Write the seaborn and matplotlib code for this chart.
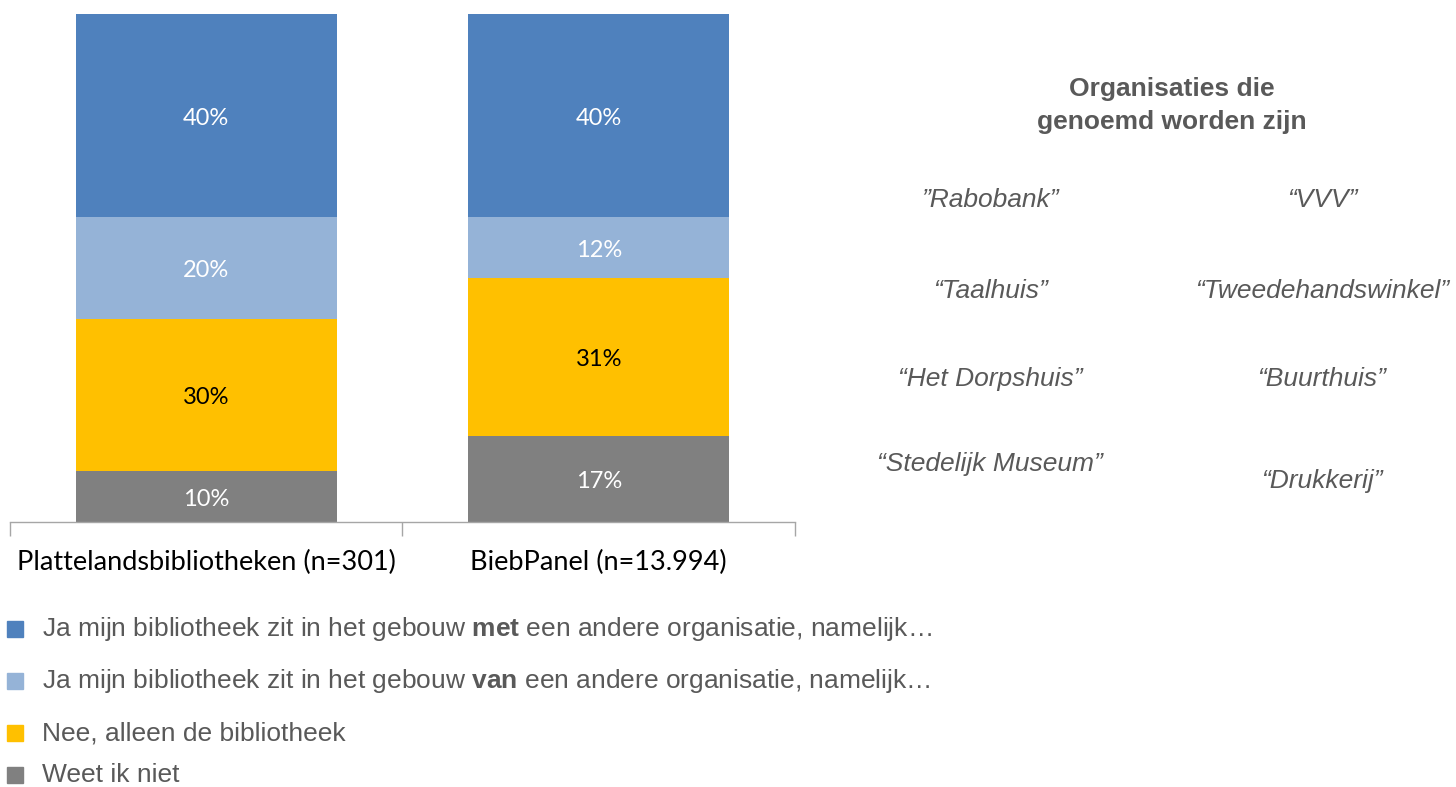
import matplotlib
matplotlib.use("Agg")
import matplotlib.pyplot as plt
from matplotlib.patches import Rectangle
import seaborn as sns
import pandas as pd

# Chart data
categories = ["Plattelandsbibliotheken (n=301)", "BiebPanel (n=13.994)"]
weet_niet = [10, 17]
nee_alleen = [30, 31]
ja_van = [20, 12]
ja_met = [40, 40]

series_names = [
    "Ja mijn bibliotheek zit in het gebouw $\\bf{met}$ een andere organisatie, namelijk…",
    "Ja mijn bibliotheek zit in het gebouw $\\bf{van}$ een andere organisatie, namelijk…",
    "Nee, alleen de bibliotheek",
    "Weet ik niet",
]
colors = ["#4F81BD", "#95B3D7", "#FFC000", "#808080"]
label_colors = ["white", "white", "black", "white"]

organisaties_links = ["”Rabobank”", "“Taalhuis”", "“Het Dorpshuis”", "“Stedelijk Museum”"]
organisaties_rechts = ["“VVV”", "“Tweedehandswinkel”", "“Buurthuis”", "“Drukkerij”"]

sns.set_theme(style="white")
plt.rcParams["font.family"] = ["Lato", "DejaVu Sans"]
plt.rcParams["mathtext.fontset"] = "custom"
plt.rcParams["mathtext.rm"] = "Liberation Sans"
plt.rcParams["mathtext.bf"] = "Liberation Sans:bold"

W, H = 1456, 787
fig = plt.figure(figsize=(W / 100, H / 100), dpi=100)
ax = fig.add_axes([10 / W, 1 - 522 / H, 785 / W, 508 / H])

# stack top-down: draw cumulative totals, tallest first
stack = [ja_met, ja_van, nee_alleen, weet_niet]
df = pd.DataFrame({"categorie": categories})
cum = [sum(v) for v in zip(*stack)]
for vals, col in zip(stack, colors):
    df["cum"] = cum
    sns.barplot(data=df, x="categorie", y="cum", color=col, saturation=1,
                width=0.665, linewidth=0, ax=ax)
    cum = [c - v for c, v in zip(cum, vals)]

# segment labels, centered in each segment
bottoms = [0, 0]
for vals, lc in zip(reversed(stack), reversed(label_colors)):
    for i, v in enumerate(vals):
        ax.text(i, bottoms[i] + v / 2 - 0.5, f"{v}%", ha="center", va="center",
                color=lc, fontsize=17)
        bottoms[i] += v

ax.set_xlim(-0.5, 1.5)
ax.set_ylim(0, 100)
ax.set_xlabel("")
ax.set_ylabel("")
ax.set_yticks([])
for s in ["top", "right", "left"]:
    ax.spines[s].set_visible(False)
ax.spines["bottom"].set_color("#A6A6A6")
ax.spines["bottom"].set_linewidth(1)
ax.set_xticks([-0.5, 0.5, 1.5], minor=True)
ax.tick_params(axis="x", which="minor", bottom=True, length=10, color="#A6A6A6", width=1)
ax.tick_params(axis="x", which="major", bottom=False, length=0, pad=20,
               labelsize=19.5, labelcolor="black")

# legend, drawn by hand in figure coordinates
legend_y = [629, 681, 733, 775]
for name, col, y in zip(series_names, colors, legend_y):
    fig.patches.append(Rectangle((7 / W, 1 - (y + 8) / H), 16 / W, 16 / H,
                                 transform=fig.transFigure, color=col))
    fig.text(42 / W, 1 - y / H, name, ha="left", va="center", fontsize=19,
             color="#595959", family="Liberation Sans")

# side panel
fig.text(1172 / W, 1 - 89 / H, "Organisaties die", ha="center", va="center",
         fontsize=19, fontweight="bold", color="#595959", family="Liberation Sans")
fig.text(1172 / W, 1 - 122 / H, "genoemd worden zijn", ha="center", va="center",
         fontsize=19, fontweight="bold", color="#595959", family="Liberation Sans")
for name, y in zip(organisaties_links, [200, 291, 379, 464]):
    fig.text(990 / W, 1 - y / H, name, ha="center", va="center", fontsize=19,
             style="italic", color="#595959", family="Liberation Sans")
for name, y in zip(organisaties_rechts, [200, 291, 379, 481]):
    fig.text(1322 / W, 1 - y / H, name, ha="center", va="center", fontsize=19,
             style="italic", color="#595959", family="Liberation Sans")

fig.savefig("out.png", dpi=100)
